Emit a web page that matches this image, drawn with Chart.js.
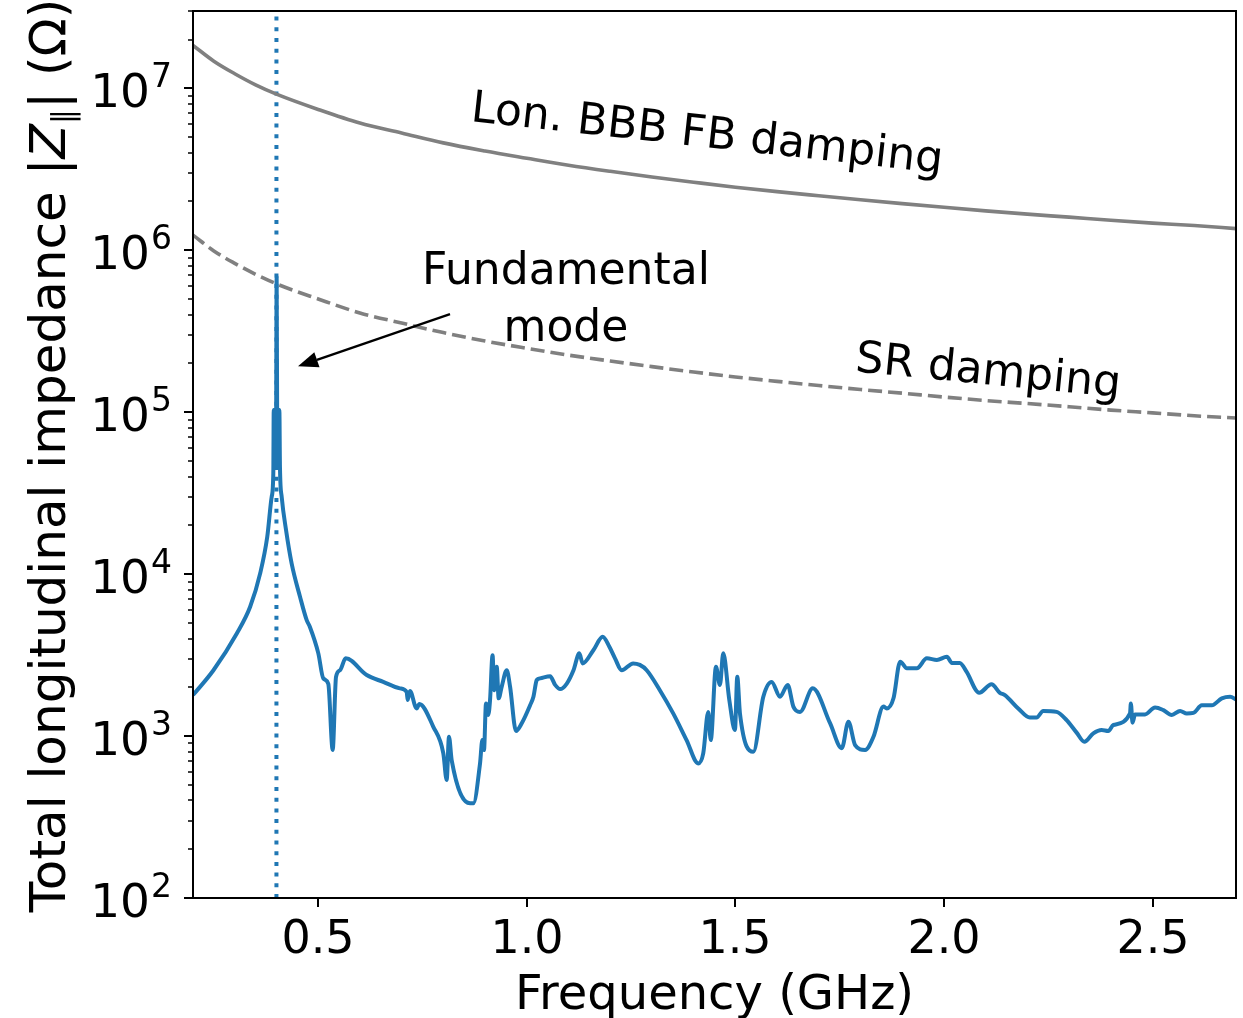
<!DOCTYPE html>
<html>
<head>
<meta charset="UTF-8">
<title>Total longitudinal impedance</title>
<script src="https://cdn.jsdelivr.net/npm/chart.js"></script>
<style>
  body { margin: 0; background: #fff; }
  canvas { display: block; }
</style>
</head>
<body>
<canvas id="impedanceChart" width="1243" height="1018"></canvas>
<script>
// total longitudinal impedance spectrum: frequency (GHz) / |Z| (Ohm)
var freq = [
  0.200, 0.249, 0.305, 0.337, 0.361, 0.378, 0.3886, 0.3925, 0.3935, 0.395,
  0.3975, 0.399, 0.4005, 0.402, 0.4045, 0.407, 0.4085, 0.4126, 0.423, 0.4365,
  0.4565, 0.4725, 0.480, 0.5004, 0.5123, 0.5243, 0.5348, 0.5428, 0.5524, 0.566,
  0.6163, 0.656, 0.696, 0.7122, 0.7146, 0.720, 0.736, 0.7425, 0.776, 0.800,
  0.808, 0.8136, 0.820, 0.864, 0.872, 0.888, 0.8935, 0.8975, 0.9023, 0.9078,
  0.912, 0.918, 0.922, 0.928, 0.9327, 0.940, 0.952, 0.960, 0.9742, 0.988,
  1.008, 1.016, 1.024, 1.032, 1.056, 1.068, 1.080, 1.096, 1.112, 1.126,
  1.134, 1.160, 1.182, 1.198, 1.2115, 1.2275, 1.255, 1.271, 1.2875, 1.319,
  1.351, 1.383, 1.411, 1.423, 1.435, 1.441, 1.4535, 1.463, 1.471, 1.4855,
  1.499, 1.5046, 1.511, 1.543, 1.567, 1.587, 1.607, 1.6255, 1.639, 1.655,
  1.6855, 1.727, 1.755, 1.771, 1.787, 1.811, 1.831, 1.855, 1.863, 1.879,
  1.895, 1.911, 1.935, 1.959, 1.983, 2.007, 2.019, 2.038, 2.054, 2.0845,
  2.114, 2.134, 2.146, 2.178, 2.206, 2.222, 2.238, 2.270, 2.294, 2.318,
  2.3365, 2.358, 2.378, 2.394, 2.406, 2.446, 2.448, 2.452, 2.458, 2.482,
  2.506, 2.526, 2.546, 2.566, 2.582, 2.598, 2.618, 2.642, 2.666, 2.686,
  2.700
];
var zTotal = [
  1790, 2550, 4300, 6280, 10100, 17000, 30000, 42000, 103000, 50000,
  46000, 60000, 680000, 60000, 46000, 103000, 45000, 30000, 18700, 11600,
  7250, 5200, 4730, 3240, 2270, 2100, 820, 2320, 2550, 3020,
  2380, 2160, 1970, 1870, 1670, 1900, 1480, 1580, 1140, 782,
  535, 990, 711, 385, 385, 678, 944, 820, 1590, 1350,
  1670, 3160, 1920, 2680, 1710, 2020, 2550, 2020, 1075, 1200,
  1550, 1750, 2220, 2270, 2340, 2070, 1950, 2110, 2550, 3240,
  2810, 3400, 4100, 3560, 3020, 2550, 2810, 2750, 2550, 1920,
  1380, 944, 678, 782, 1410, 944, 2680, 2070, 3240, 1670,
  1090, 2320, 1380, 800, 1750, 2160, 1750, 2070, 1520, 1410,
  1970, 1200, 840, 1225, 880, 820, 990, 1520, 1480, 1710,
  2880, 2620, 2620, 3020, 2950, 3090, 2830, 2830, 2500, 1850,
  2090, 1850, 1790, 1480, 1300, 1300, 1430, 1410, 1255, 1050,
  922, 1040, 1090, 1075, 1170, 1380, 1590, 1210, 1360, 1360,
  1500, 1445, 1350, 1430, 1380, 1390, 1550, 1550, 1710, 1750,
  1680
];

// instability thresholds (Ohm)
var thrFreq = [0.2, 0.25, 0.3, 0.35, 0.4, 0.5, 0.6, 0.7, 0.8, 0.9, 1.0, 1.1, 1.2, 1.3, 1.4,
  1.5, 1.6, 1.7, 1.8, 1.9, 2.0, 2.1, 2.2, 2.3, 2.4, 2.5, 2.6, 2.7];
var bbbDamping = [1.84e7, 1.47e7, 1.23e7, 1.05e7, 9.2e6, 7.4e6, 6.1e6, 5.3e6, 4.6e6, 4.1e6, 3.7e6, 3.35e6, 3.07e6, 2.83e6, 2.63e6,
  2.45e6, 2.3e6, 2.17e6, 2.05e6, 1.94e6, 1.84e6, 1.75e6, 1.67e6, 1.6e6, 1.53e6, 1.47e6, 1.42e6, 1.36e6];
var srDamping = [1.24e6, 9.9e5, 8.3e5, 7.1e5, 6.2e5, 5.0e5, 4.1e5, 3.55e5, 3.1e5, 2.75e5, 2.48e5, 2.25e5, 2.07e5, 1.91e5, 1.77e5,
  1.65e5, 1.55e5, 1.46e5, 1.38e5, 1.31e5, 1.24e5, 1.18e5, 1.13e5, 1.08e5, 1.03e5, 9.9e4, 9.5e4, 9.2e4];

var fundamentalFreq = 0.4;
var xTicks = [0.5, 1.0, 1.5, 2.0, 2.5];
var xTickLabels = ['0.5', '1.0', '1.5', '2.0', '2.5'];
var yDecades = [2, 3, 4, 5, 6, 7];

function pairs(xs, ys) {
  return xs.map(function (x, i) { return { x: x, y: ys[i] }; });
}

var FONT = '"DejaVu Sans", sans-serif';

// text labels placed in data coordinates
var notes = [
  { text: 'Lon. BBB FB damping', x: 1.432, y: 5.1e6, angle: 6.3 },
  { text: 'SR damping', x: 2.106, y: 1.75e5, angle: 5.6 },
  { text: 'Fundamental', x: 1.094, y: 7.3e5, angle: 0 },
  { text: 'mode', x: 1.094, y: 3.25e5, angle: 0 }
];
var arrowFrom = { x: 0.816, y: 4.03e5 };
var arrowTo = { x: 0.4517, y: 1.92e5 };

// matplotlib-like frame, ticks, labels and annotations
var axesDecor = {
  id: 'axesDecor',
  afterDraw: function (chart) {
    var ctx = chart.ctx;
    var a = chart.chartArea;
    var xs = chart.scales.x, ys = chart.scales.y;
    ctx.save();
    ctx.strokeStyle = '#000';
    ctx.fillStyle = '#000';
    ctx.lineWidth = 2;
    ctx.strokeRect(a.left, a.top, a.right - a.left, a.bottom - a.top);

    // x ticks
    ctx.font = '46px ' + FONT;
    ctx.textAlign = 'center';
    ctx.textBaseline = 'alphabetic';
    xTicks.forEach(function (v, i) {
      var px = Math.round(xs.getPixelForValue(v));
      ctx.beginPath();
      ctx.moveTo(px, a.bottom);
      ctx.lineTo(px, a.bottom + 9);
      ctx.stroke();
      ctx.fillText(xTickLabels[i], px, 953);
    });

    // y ticks: decades plus minor ticks
    yDecades.forEach(function (d) {
      for (var k = 1; k <= 9; k++) {
        var v = k * Math.pow(10, d);
        if (v > ys.max) break;
        var py = Math.round(ys.getPixelForValue(v));
        ctx.beginPath();
        ctx.lineWidth = k === 1 ? 2 : 1.5;
        ctx.moveTo(a.left, py);
        ctx.lineTo(a.left - (k === 1 ? 9 : 5), py);
        ctx.stroke();
      }
      var ty = ys.getPixelForValue(Math.pow(10, d));
      ctx.textAlign = 'right';
      ctx.font = '33px ' + FONT;
      var ew = ctx.measureText(String(d)).width;
      ctx.fillText(String(d), 172, ty - 1);
      ctx.font = '47px ' + FONT;
      ctx.fillText('10', 172 - ew - 1, ty + 19);
    });

    // x title
    ctx.textAlign = 'center';
    ctx.font = '48px ' + FONT;
    ctx.fillText('Frequency (GHz)', (a.left + a.right) / 2, 1009);

    // y title, written left-to-right then rotated
    var parts = [
      { t: 'Total longitudinal impedance |', f: '50px ' + FONT, dy: 0 },
      { t: 'Z', f: 'italic 50px ' + FONT, dy: 0 },
      { t: '\u2225', f: '31px ' + FONT, dy: 9 },
      { t: '| (\u03A9)', f: '50px ' + FONT, dy: 0 }
    ];
    var total = 0;
    parts.forEach(function (p) { ctx.font = p.f; p.w = ctx.measureText(p.t).width; total += p.w; });
    ctx.save();
    ctx.translate(65, (a.top + a.bottom) / 2 + 1);
    ctx.rotate(-Math.PI / 2);
    ctx.textAlign = 'left';
    var cx = -total / 2;
    parts.forEach(function (p) {
      ctx.font = p.f;
      ctx.fillText(p.t, cx, p.dy);
      cx += p.w;
    });
    ctx.restore();

    // annotations
    ctx.font = '44px ' + FONT;
    ctx.textAlign = 'center';
    ctx.textBaseline = 'middle';
    notes.forEach(function (n) {
      ctx.save();
      ctx.translate(xs.getPixelForValue(n.x), ys.getPixelForValue(n.y));
      ctx.rotate(n.angle * Math.PI / 180);
      ctx.fillText(n.text, 0, 0);
      ctx.restore();
    });

    // arrow to the fundamental mode peak
    var x0 = xs.getPixelForValue(arrowFrom.x), y0 = ys.getPixelForValue(arrowFrom.y);
    var x1 = xs.getPixelForValue(arrowTo.x), y1 = ys.getPixelForValue(arrowTo.y);
    var ang = Math.atan2(y1 - y0, x1 - x0);
    var hl = 20, hw = 8;
    ctx.lineWidth = 2.4;
    ctx.beginPath();
    ctx.moveTo(x0, y0);
    ctx.lineTo(x1 - hl * Math.cos(ang), y1 - hl * Math.sin(ang));
    ctx.stroke();
    ctx.beginPath();
    ctx.moveTo(x1, y1);
    ctx.lineTo(x1 - hl * Math.cos(ang) + hw * Math.sin(ang), y1 - hl * Math.sin(ang) - hw * Math.cos(ang));
    ctx.lineTo(x1 - hl * Math.cos(ang) - hw * Math.sin(ang), y1 - hl * Math.sin(ang) + hw * Math.cos(ang));
    ctx.closePath();
    ctx.fill();
    ctx.restore();
  }
};

var ctx = document.getElementById('impedanceChart').getContext('2d');
var chart = new Chart(ctx, {
  type: 'line',
  data: {
    datasets: [{
      label: 'Lon. BBB FB damping',
      data: pairs(thrFreq, bbbDamping),
      borderColor: '#808080',
      borderWidth: 3.6,
      cubicInterpolationMode: 'monotone',
      pointRadius: 0
    }, {
      label: 'SR damping',
      data: pairs(thrFreq, srDamping),
      borderColor: '#808080',
      borderWidth: 3.6,
      borderDash: [14, 6],
      cubicInterpolationMode: 'monotone',
      pointRadius: 0
    }, {
      label: 'Total impedance',
      data: pairs(freq, zTotal),
      borderColor: '#1f77b4',
      borderWidth: 4,
      borderJoinStyle: 'round',
      cubicInterpolationMode: 'monotone',
      pointRadius: 0
    }, {
      label: 'Fundamental mode',
      data: [{ x: fundamentalFreq, y: 100 }, { x: fundamentalFreq, y: 3e7 }],
      borderColor: '#1f77b4',
      borderWidth: 4,
      borderDash: [4, 6.7],
      pointRadius: 0
    }]
  },
  options: {
    responsive: false,
    animation: false,
    devicePixelRatio: 1,
    layout: { padding: { left: 193, right: 7, top: 11, bottom: 120 } },
    plugins: { legend: { display: false }, tooltip: { enabled: false } },
    scales: {
      x: { type: 'linear', min: 0.2, max: 2.7, display: false },
      y: { type: 'logarithmic', min: 100, max: 3e7, display: false }
    }
  },
  plugins: [axesDecor]
});
</script>
</body>
</html>
